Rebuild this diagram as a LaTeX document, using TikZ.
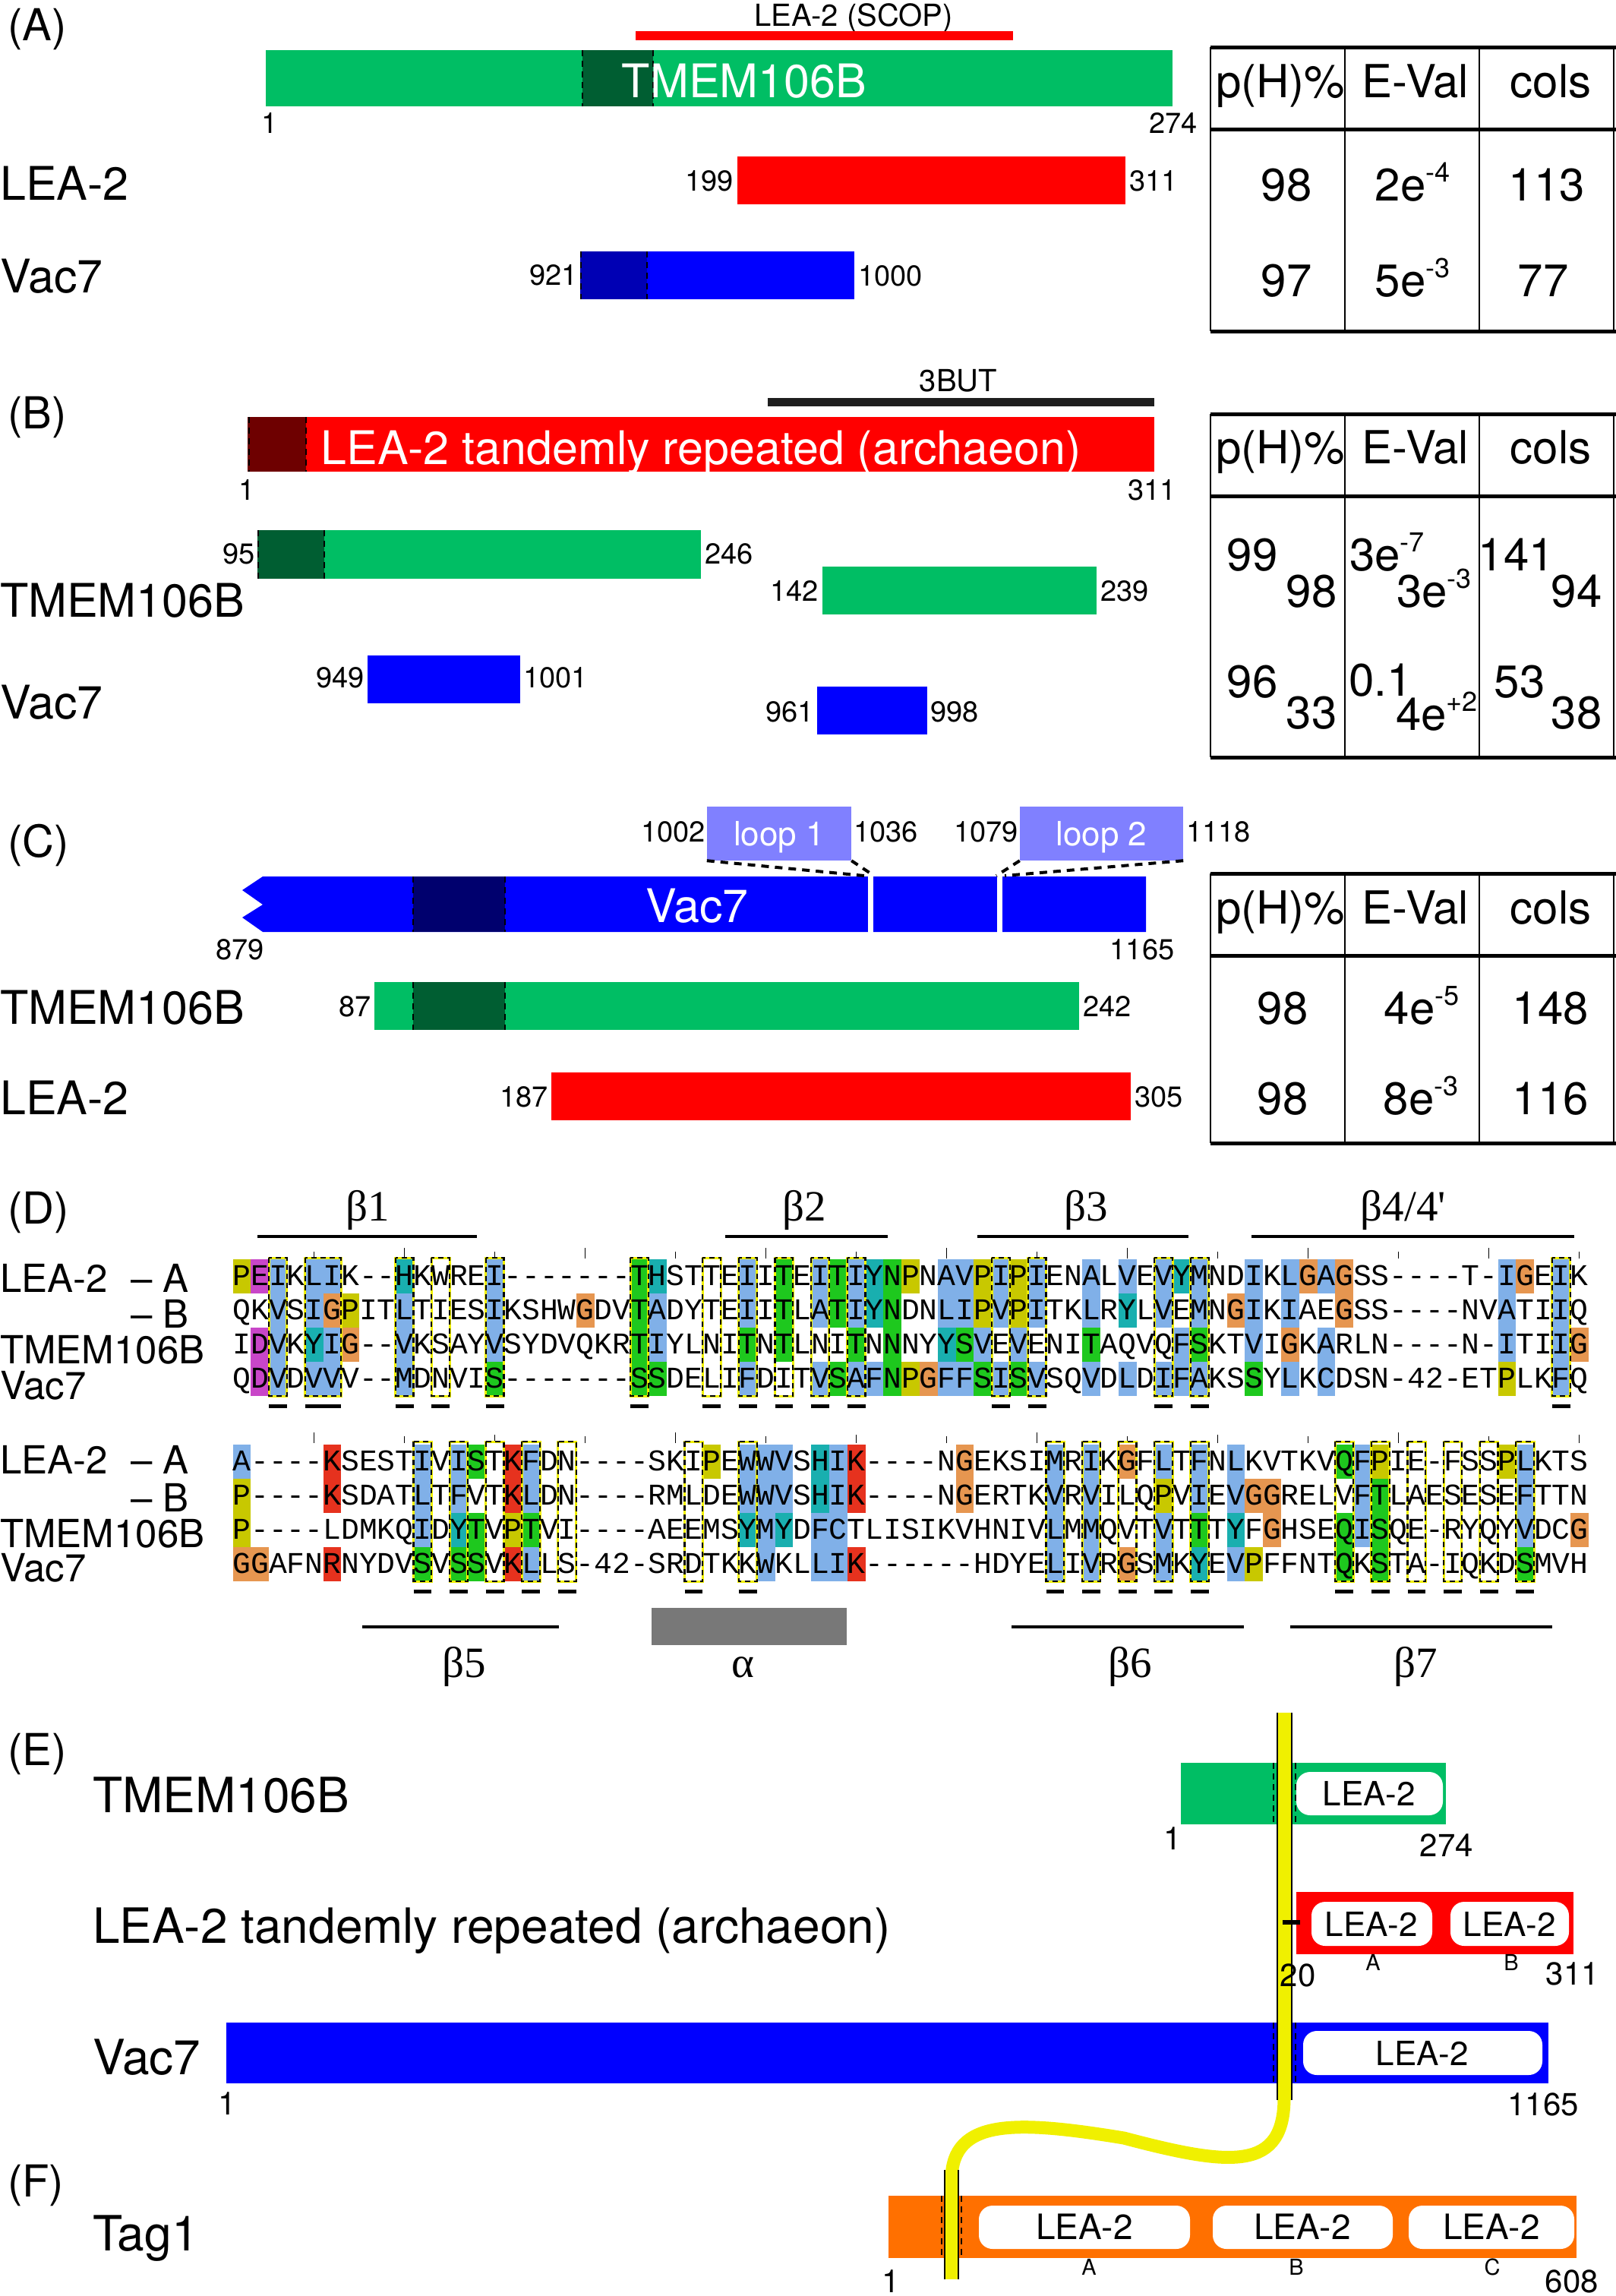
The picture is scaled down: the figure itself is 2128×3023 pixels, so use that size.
\documentclass[tikz,border=0pt]{standalone}
\usepackage{fontspec}
\setmainfont{TeX Gyre Heros}
\newfontfamily\monof{Liberation Mono}
\newfontfamily\serf{Liberation Serif}
\definecolor{lgreen}{RGB}{0,190,100}
\definecolor{dgreen}{RGB}{0,94,50}
\definecolor{lred}{RGB}{255,0,0}
\definecolor{dred}{RGB}{110,0,0}
\definecolor{lblue}{RGB}{0,0,255}
\definecolor{dblue}{RGB}{0,0,180}
\definecolor{nblue}{RGB}{0,0,110}
\definecolor{loopc}{RGB}{128,128,255}
\definecolor{torange}{RGB}{255,112,0}
\definecolor{tyellow}{RGB}{240,240,0}
\definecolor{bargray}{RGB}{30,30,30}
\definecolor{helixgray}{RGB}{120,120,120}
\definecolor{alnb}{RGB}{128,176,232}
\definecolor{alng}{RGB}{30,200,30}
\definecolor{alnt}{RGB}{25,175,175}
\definecolor{alny}{RGB}{200,200,0}
\definecolor{alno}{RGB}{230,150,80}
\definecolor{alnm}{RGB}{200,70,200}
\definecolor{alnr}{RGB}{230,50,30}
\newcommand\sups[1]{\raisebox{0.42em}{\fontsize{36}{36}\selectfont #1}}
\newcount\alncol
\def\alnY{0}
\def\alnletters#1{\ifx#1\relax\else\node[alch] at ({318.4+23.8*\the\alncol},\alnY) {#1};\global\advance\alncol by 1\relax\expandafter\alnletters\fi}
\def\alncells#1{\ifx#1\relax\else\ifx#1.\else\fill[aln#1] ({306.5+23.8*\the\alncol},\alnY) rectangle ++(23.8,45);\fi\global\advance\alncol by 1\relax\expandafter\alncells\fi}
\newcommand\alnfill[2]{\def\alnY{#1}\global\alncol=0\relax\alncells#2\relax}
\newcommand\alntext[2]{\def\alnY{#1}\global\alncol=0\relax\alnletters#2\relax}
\newcommand\alnbox[5]{%
  \draw[tyellow, line width=3] ({306.5+23.8*#1},#3) rectangle ({330.3+23.8*#2},#4);
  \draw[black, line width=2.2, dash pattern=on 7pt off 5pt] ({306.5+23.8*#1},#3) rectangle ({330.3+23.8*#2},#4);
  \draw[black, line width=5] ({306.5+23.8*#1},#5) -- ({330.3+23.8*#2},#5);}
\newcommand\hhtable[4]{%
  \draw[line width=5] (1594,#1) -- (2128,#1);
  \draw[line width=5] (1594,#2) -- (2128,#2);
  \draw[line width=5] (1594,#3) -- (2128,#3);
  \foreach \xx in {1594,1771,1948,2125} {\draw[line width=2.5] (\xx,#1) -- (\xx,#3);}
  \node[th] at (1686,#4) {p(H)\%};
  \node[th] at (1864,#4) {E-Val};
  \node[th] at (2042,#4) {cols};}
\begin{document}
\begin{tikzpicture}[x=1pt,y=-1pt,
  pl/.style={inner sep=0pt, anchor=west, font=\fontsize{58}{60}\selectfont, text height=42pt, text depth=0pt},
  rl/.style={inner sep=0pt, anchor=west, font=\fontsize{61}{64}\selectfont, text height=44pt, text depth=0pt},
  wl/.style={inner sep=0pt, text=white, font=\fontsize{61}{64}\selectfont, text height=44pt, text depth=0pt},
  th/.style={inner sep=0pt, font=\fontsize{60}{62}\selectfont, text height=43pt, text depth=0pt},
  nm/.style={inner sep=0pt, font=\fontsize{38}{40}\selectfont, text height=27pt, text depth=0pt},
  sm/.style={inner sep=0pt, font=\fontsize{40}{42}\selectfont, text height=29pt, text depth=0pt},
  el/.style={inner sep=0pt, anchor=west, font=\fontsize{64}{66}\selectfont, text height=46pt, text depth=0pt},
  eb/.style={inner sep=0pt, font=\fontsize{44}{46}\selectfont, text height=32pt, text depth=0pt},
  en/.style={inner sep=0pt, font=\fontsize{42}{44}\selectfont, text height=30pt, text depth=0pt},
  et/.style={inner sep=0pt, font=\fontsize{29}{30}\selectfont, text height=21pt, text depth=0pt},
  al/.style={inner sep=0pt, anchor=west, font=\fontsize{51}{53}\selectfont, text height=37pt, text depth=0pt},
  ss/.style={inner sep=0pt, anchor=base, font=\serf\fontsize{57}{60}\selectfont},
  alch/.style={inner sep=0pt, anchor=base, font=\monof\fontsize{39.7}{40}\selectfont},
  dl/.style={black, line width=2.5, dash pattern=on 8pt off 6pt},
  loopdash/.style={black, line width=4, dash pattern=on 10pt off 8pt},
  loopbox/.style={fill=loopc, inner sep=0pt, text=white, font=\fontsize{44}{46}\selectfont, text height=32pt, text depth=0pt}]
\useasboundingbox (0,0) rectangle (2128,3023);
\fill[white] (0,0) rectangle (2128,3023);

% ================= (A)
\node[pl] (pA) at (10,32) {(A)};
\node[sm] (scop) at (1124,20) {LEA-2 (SCOP)};
\fill[lred] (837,41) rectangle (1334,53);
\fill[lgreen] (350,66) rectangle (1544,140);
\fill[dgreen] (767,66) rectangle (860,140);
\draw[dl] (767,66) -- (767,140);
\draw[dl] (860,66) -- (860,140);
\node[wl] (tA) at (980,106) {TMEM106B};
\node[nm] (a1) at (355,162) {1};
\node[nm] (a274) at (1545,162) {274};
\node[rl] (lA1) at (0,241) {LEA-2};
\fill[lred] (971,206) rectangle (1482,269);
\node[nm, anchor=east] (a199) at (966,238) {199};
\node[nm, anchor=west] (a311) at (1487,238) {311};
\node[rl] (lA2) at (0,363) {Vac7};
\fill[lblue] (764,331) rectangle (1125,394);
\fill[dblue] (764,331) rectangle (852,394);
\draw[dl] (765,331) -- (765,394);
\draw[dl] (852,331) -- (852,394);
\node[nm, anchor=east] (a921) at (761,362) {921};
\node[nm, anchor=west] (a1000) at (1130,363) {1000};
\hhtable{62}{170}{436}{107}
\node[th] (ta1) at (1694,243) {98};
\node[th] (ta2) at (1860,243) {2e\sups{-4}};
\node[th] (ta3) at (2037,243) {113};
\node[th] (ta4) at (1694,369) {97};
\node[th] (ta5) at (1860,369) {5e\sups{-3}};
\node[th] (ta6) at (2032,369) {77};

% ================= (B)
\node[pl] (pB) at (10,543) {(B)};
\node[sm] (but) at (1262,501) {3BUT};
\fill[bargray] (1011,524) rectangle (1520,535);
\fill[lred] (326,549) rectangle (1520,621);
\fill[dred] (326,549) rectangle (403,621);
\draw[dl] (328,549) -- (328,621);
\draw[dl] (403,549) -- (403,621);
\node[wl] (tB) at (923,589) {LEA-2 tandemly repeated (archaeon)};
\node[nm] (b1) at (325,645) {1};
\node[nm] (b311) at (1517,645) {311};
\node[rl] (lB1) at (0,790) {TMEM106B};
\fill[lgreen] (339,698) rectangle (923,762);
\fill[dgreen] (339,698) rectangle (427,762);
\draw[dl] (340,698) -- (340,762);
\draw[dl] (427,698) -- (427,762);
\node[nm, anchor=east] (b95) at (336,729) {95};
\node[nm, anchor=west] (b246) at (928,729) {246};
\fill[lgreen] (1083,746) rectangle (1444,809);
\node[nm, anchor=east] (b142) at (1078,778) {142};
\node[nm, anchor=west] (b239) at (1449,778) {239};
\node[rl] (lB2) at (0,924) {Vac7};
\fill[lblue] (484,863) rectangle (685,926);
\node[nm, anchor=east] (b949) at (480,892) {949};
\node[nm, anchor=west] (b1001) at (689,892) {1001};
\fill[lblue] (1076,904) rectangle (1221,967);
\node[nm, anchor=east] (b961) at (1072,937) {961};
\node[nm, anchor=west] (b998) at (1225,937) {998};
\hhtable{545}{653}{997}{589}
\node[th] (tb1) at (1649,730) {99};
\node[th] (tb2) at (1727,778) {98};
\node[th, anchor=west] (tb3) at (1777,730) {3e\sups{-7}};
\node[th, anchor=west] (tb4) at (1839,778) {3e\sups{-3}};
\node[th] (tb5) at (1997,730) {141};
\node[th] (tb6) at (2076,778) {94};
\node[th] (tb7) at (1649,897) {96};
\node[th] (tb8) at (1727,938) {33};
\node[th, anchor=west] (tb9) at (1776,895) {0.1};
\node[th, anchor=west] (tb10) at (1838,940) {4e\sups{+2}};
\node[th] (tb11) at (2001,897) {53};
\node[th] (tb12) at (2076,938) {38};

% ================= (C)
\node[pl] (pC) at (10,1107) {(C)};
\node[loopbox, minimum width=190pt, minimum height=71pt] (loopA) at (1026,1097.5) {loop 1};
\node[loopbox, minimum width=215pt, minimum height=71pt] (loopB) at (1450.5,1097.5) {loop 2};
\node[nm, anchor=east] (c1002) at (929,1095) {1002};
\node[nm, anchor=west] (c1036) at (1124,1095) {1036};
\node[nm, anchor=east] (c1079) at (1341,1095) {1079};
\node[nm, anchor=west] (c1118) at (1562,1095) {1118};
\fill[lblue] (346,1154) -- (1509,1154) -- (1509,1227) -- (346,1227) -- (319,1208) -- (346,1191) -- (319,1172) -- cycle;
\fill[nblue] (544,1154) rectangle (665,1227);
\draw[dl] (544,1154) -- (544,1227);
\draw[dl] (665,1154) -- (665,1227);
\draw[white, line width=7] (1146,1152) -- (1146,1229);
\draw[white, line width=7] (1316,1152) -- (1316,1229);
\coordinate (g1l) at (1138,1153);
\coordinate (g1r) at (1151,1153);
\coordinate (g2l) at (1312,1153);
\coordinate (g2r) at (1323,1153);
\draw[loopdash] (loopA.south west) -- (g1l);
\draw[loopdash] (loopA.south east) -- (g1r);
\draw[loopdash] (loopB.south west) -- (g2l);
\draw[loopdash] (loopB.south east) -- (g2r);
\node[wl] (tC) at (918,1192) {Vac7};
\node[nm] (c879) at (316,1250) {879};
\node[nm] (c1165) at (1504,1250) {1165};
\node[rl] (lC1) at (0,1326) {TMEM106B};
\fill[lgreen] (493,1293) rectangle (1421,1356);
\fill[dgreen] (544,1293) rectangle (665,1356);
\draw[dl] (544,1293) -- (544,1356);
\draw[dl] (665,1293) -- (665,1356);
\node[nm, anchor=east] (c87) at (489,1325) {87};
\node[nm, anchor=west] (c242) at (1426,1325) {242};
\node[rl] (lC2) at (0,1445) {LEA-2};
\fill[lred] (726,1412) rectangle (1489,1475);
\node[nm, anchor=east] (c187) at (722,1444) {187};
\node[nm, anchor=west] (c305) at (1494,1444) {305};
\hhtable{1150}{1258}{1505}{1195}
\node[th] (tc1) at (1689,1327) {98};
\node[th] (tc2) at (1872,1327) {4e\sups{-5}};
\node[th] (tc3) at (2042,1327) {148};
\node[th] (tc4) at (1689,1446) {98};
\node[th] (tc5) at (1871,1446) {8e\sups{-3}};
\node[th] (tc6) at (2042,1446) {116};

% ================= (D)
\node[pl] (pD) at (10,1590) {(D)};
\node[ss] (s1) at (484,1607) {β1};
\node[ss] (s2) at (1059,1607) {β2};
\node[ss] (s3) at (1430,1607) {β3};
\node[ss] (s4) at (1848,1607) {β4/4'};
\draw[line width=4] (339,1628) -- (628,1628);
\draw[line width=4] (955,1628) -- (1169,1628);
\draw[line width=4] (1287,1628) -- (1565,1628);
\draw[line width=4] (1648,1628) -- (2073,1628);
\node[al] (d1) at (0,1683) {LEA-2};
\node[al] (d2) at (172,1683) {\textendash\ A};
\node[al] (d3) at (172,1730) {\textendash\ B};
\node[al] (d4) at (0,1777) {TMEM106B};
\node[al] (d5) at (0,1824) {Vac7};
\node[al] (d6) at (0,1922) {LEA-2};
\node[al] (d7) at (172,1922) {\textendash\ A};
\node[al] (d8) at (172,1972) {\textendash\ B};
\node[al] (d9) at (0,2019) {TMEM106B};
\node[al] (d10) at (0,2064) {Vac7};
% ticks
\foreach \c in {4,14,...,74} {\draw[line width=1.5] ({318.4+23.8*\c},1648) -- ({318.4+23.8*\c},1657);}
\foreach \c in {9,19,...,69} {\draw[line width=1.5] ({318.4+23.8*\c},1643) -- ({318.4+23.8*\c},1657);}
\foreach \c in {4,24,44,64} {\draw[line width=1.5] ({318.4+23.8*\c},1886) -- ({318.4+23.8*\c},1900);}
\foreach \c in {14,34,54,74} {\draw[line width=1.5] ({318.4+23.8*\c},1889) -- ({318.4+23.8*\c},1900);}
\foreach \c in {9,19,...,69} {\draw[line width=1.5] ({318.4+23.8*\c},1891) -- ({318.4+23.8*\c},1900);}
% block 1 colours
\alnfill{1658}{ymb.bb...t....b.......gt....b.g.bgbtgy.bbybyb..b.b.btb..b.bobo........bo.b.}
\alnfill{1703}{..b.boy..b....b....o..gb....b.g.bgbtg..bbybyb..b.t.b.b.ob.b..o........b..b.}
\alnfill{1748}{.mb.tbo..b....b.......gb....g.g...g.g..tgb.b...g....bg..b.o.b.........b..bo}
\alnfill{1793}{.mb.bb...b....g.......gg....b...bgbbgyobbgbgb..b.b.bbb..g.b.b.........y..b.}
% block 2 colours
\alnfill{1902}{b....r....b.bg.rb.........y.bbb.tbr.....o....b.b.o.b.b.b.....gby......yb...}
\alnfill{1947}{y....r....b.b..rb...........bbb.tbr.....o....b.b...y.b.boo....bg.......b...}
\alnfill{1992}{y.........b.tg.yg...........tbt.bb...........b.b...b.g.t.o...gbg.......b..o}
\alnfill{2037}{oo...r....g.gg.rb............b..bbr..........b.b.o.b.t.by....g.g.......g...}
% boxes
\foreach \c in {2,9,11,14,22,26,28,30,32,34,42,44,51,53,73} {\alnbox{\c}{\c}{1656}{1838}{1851}}
\alnbox{4}{5}{1656}{1838}{1851}
\foreach \c in {10,12,14,16,18,25,28,45,47,49,51,53,61,63,65,67,69,71} {\alnbox{\c}{\c}{1898}{2082}{2095}}
% letters
\alntext{1692}{PEIKLIK--HKWREI-------THSTTEIITEITIYNPNAVPIPIENALVEVYMNDIKLGAGSS----T-IGEIK}
\alntext{1737}{QKVSIGPITLTIESIKSHWGDVTADYTEIITLATIYNDNLIPVPITKLRYLVEMNGIKIAEGSS----NVATIIQ}
\alntext{1782}{IDVKYIG--VKSAYVSYDVQKRTIYLNITNTLNITNNNYYSVEVENITAQVQFSKTVIGKARLN----N-ITIIG}
\alntext{1827}{QDVDVVV--MDNVIS-------SSDELIFDITVSAFNPGFFSISVSQVDLDIFAKSSYLKCDSN-42-ETPLKFQ}
\alntext{1936}{A----KSESTIVISTKFDN----SKIPEWWVSHIK----NGEKSIMRIKGFLTFNLKVTKVQFPIE-FSSPLKTS}
\alntext{1981}{P----KSDATLTFVTKLDN----RMLDEWWVSHIK----NGERTKVRVILQPVIEVGGRELVFTLAESESEFTTN}
\alntext{2026}{P----LDMKQIDYTVPTVI----AEEMSYMYDFCTLISIKVHNIVLMMQVTVTTTYFGHSEQISQE-RYQYVDCG}
\alntext{2071}{GGAFNRNYDVSVSSVKLLS-42-SRDTKKWKLLIK------HDYELIVRGSMKYEVPFFNTQKSTA-IQKDSMVH}
% secondary structure below
\draw[line width=4] (477,2142) -- (736,2142);
\fill[helixgray] (858,2117) rectangle (1115,2166);
\draw[line width=4] (1332,2142) -- (1638,2142);
\draw[line width=4] (1699,2142) -- (2044,2142);
\node[ss] (s5) at (611,2208) {β5};
\node[ss] (sa) at (978,2208) {α};
\node[ss] (s6) at (1488,2208) {β6};
\node[ss] (s7) at (1864,2208) {β7};

% ================= (E) and (F)
\node[pl] (pE) at (10,2303) {(E)};
\node[el] (e1) at (122,2363) {TMEM106B};
\fill[lgreen] (1555,2321) rectangle (1904,2402);
\fill[white, rounded corners=18] (1707,2333) rectangle (1900,2390);
\node[eb] (e1d) at (1803,2361) {LEA-2};
\node[el] (e2) at (122,2535) {LEA-2 tandemly repeated (archaeon)};
\fill[lred] (1707,2491) rectangle (2072,2573);
\fill[white, rounded corners=18] (1727,2504) rectangle (1886,2562);
\fill[white, rounded corners=18] (1910,2504) rectangle (2066,2562);
\node[eb] (e2a) at (1806,2533) {LEA-2};
\node[eb] (e2b) at (1988,2533) {LEA-2};
\node[el] (e3) at (122,2708) {Vac7};
\fill[lblue] (298,2663) rectangle (2039,2743);
\fill[white, rounded corners=18] (1716,2674) rectangle (2031,2732);
\node[eb] (e3d) at (1873,2703) {LEA-2};
\node[pl] (pF) at (10,2871) {(F)};
\node[el] (f1) at (122,2940) {Tag1};
\fill[torange] (1170,2891) rectangle (2076,2973);
\fill[white, rounded corners=18] (1289,2904) rectangle (1567,2961);
\fill[white, rounded corners=18] (1597,2904) rectangle (1834,2961);
\fill[white, rounded corners=18] (1855,2904) rectangle (2073,2961);
\node[eb, font=\fontsize{46}{48}\selectfont, text height=33pt] (f1a) at (1428,2932) {LEA-2};
\node[eb, font=\fontsize{46}{48}\selectfont, text height=33pt] (f1b) at (1715,2932) {LEA-2};
\node[eb, font=\fontsize{46}{48}\selectfont, text height=33pt] (f1c) at (1964,2932) {LEA-2};
% dashed marks at the yellow lines
\draw[dl] (1677,2321) -- (1677,2402);
\draw[dl] (1706,2321) -- (1706,2402);
\draw[dl] (1677,2663) -- (1677,2743);
\draw[dl] (1706,2663) -- (1706,2743);
\draw[dl] (1240,2891) -- (1240,2973);
\draw[dl] (1266,2891) -- (1266,2973);
% yellow connector
\coordinate (ytop) at (1691,2760);
\coordinate (ybot) at (1253,2870);
\draw[tyellow, line width=17] (ytop) .. controls (1692,2860) and (1620,2852) .. (1480,2815) .. controls (1340,2792) and (1253,2788) .. (ybot);
\fill[tyellow] (1682,2255) rectangle (1701,2765);
\draw[line width=2.5] (1682,2255) -- (1682,2765);
\draw[line width=2.5] (1701,2255) -- (1701,2765);
\fill[tyellow] (1244,2857) rectangle (1262,3001);
\draw[line width=2.5] (1244,2857) -- (1244,3001);
\draw[line width=2.5] (1262,2857) -- (1262,3001);
\draw[line width=6] (1689,2531) -- (1712,2531);
% numbers
\node[en] (n1) at (1544,2420) {1};
\node[en] (n2) at (1905,2429) {274};
\node[en] (n3) at (1709,2600) {20};
\node[et] (n4) at (1808,2584) {A};
\node[et] (n5) at (1990,2584) {B};
\node[en] (n6) at (2071,2598) {311};
\node[en] (n7) at (299,2769) {1};
\node[en] (n8) at (2032,2770) {1165};
\node[et] (n9) at (1434,2985) {A};
\node[et] (n10) at (1707,2985) {B};
\node[et] (n11) at (1965,2985) {C};
\node[en] (n12) at (1173,3003) {1};
\node[en] (n13) at (2070,3003) {608};
\end{tikzpicture}
\end{document}
